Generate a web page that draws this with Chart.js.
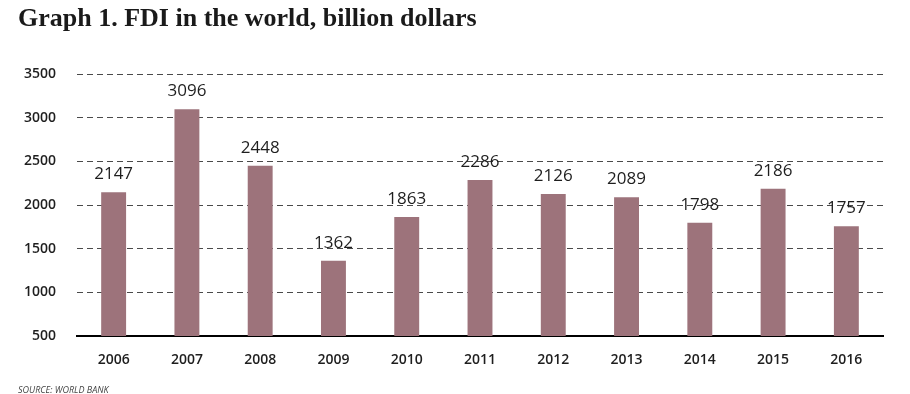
<!DOCTYPE html>
<html>
<head>
<meta charset="utf-8">
<script src="https://cdn.jsdelivr.net/npm/chart.js@4"></script>
<style>
  body { margin: 0; background: #fff; }
  #wrap { position: relative; width: 910px; height: 394px; }
  #title { position: absolute; left: 18px; top: 3px; margin: 0; font: bold 26px "Liberation Serif", serif; color: #1a1a1a; }
  #source { position: absolute; left: 18px; top: 383px; font: italic 9px "Open Sans", sans-serif; color: #444; }
  canvas { position: absolute; left: 0; top: 0; }
</style>
</head>
<body>
<div id="wrap">
  <canvas id="graph1" width="910" height="394"></canvas>
  <h1 id="title">Graph 1. FDI in the world, billion dollars</h1>
  <div id="source">SOURCE: WORLD BANK</div>
</div>
<script>
var years = ["2006", "2007", "2008", "2009", "2010", "2011", "2012", "2013", "2014", "2015", "2016"];
var fdi = [2147, 3096, 2448, 1362, 1863, 2286, 2126, 2089, 1798, 2186, 1757];
var yTicks = [500, 1000, 1500, 2000, 2500, 3000, 3500];

// draws the value above every bar
var valueLabels = {
    id: "valueLabels",
    afterDatasetsDraw: function (chart) {
        var ctx = chart.ctx;
        var meta = chart.getDatasetMeta(0);
        ctx.save();
        ctx.font = "17px 'Open Sans', sans-serif";
        ctx.fillStyle = "#1e1e1e";
        ctx.textAlign = "center";
        ctx.textBaseline = "alphabetic";
        meta.data.forEach(function (bar, i) {
            ctx.fillText(fdi[i], bar.x, bar.y - 13);
        });
        ctx.restore();
    }
};

new Chart(document.getElementById("graph1"), {
    type: "bar",
    data: {
        labels: years,
        datasets: [{
            label: "FDI",
            data: fdi,
            backgroundColor: "#9d737b",
            barPercentage: 0.34,
            categoryPercentage: 1
        }]
    },
    options: {
        responsive: false,
        animation: false,
        layout: { padding: { top: 74, right: 27, left: 0, bottom: 0 } },
        plugins: { legend: { display: false }, tooltip: { enabled: false } },
        scales: {
            x: {
                grid: { display: false },
                border: { display: true, color: "#000", width: 2 },
                ticks: { color: "#1e1e1e", font: { family: "Open Sans", size: 14, weight: "600" }, padding: 8 },
                afterFit: function (s) { s.height = 58; }
            },
            y: {
                min: 500,
                max: 3500,
                afterBuildTicks: function (s) { s.ticks = yTicks.map(function (v) { return { value: v }; }); },
                grid: {
                    drawTicks: false,
                    color: function (c) { return c.tick.value === 500 ? "rgba(0,0,0,0)" : "#4a4a4a"; },
                    lineWidth: 1
                },
                border: { display: false, dash: [6, 4] },
                ticks: {
                    color: "#1e1e1e",
                    font: { family: "Open Sans", size: 14, weight: "600" },
                    padding: 21,
                    callback: function (v) { return String(v); }
                },
                afterFit: function (s) { s.width = 77; }
            }
        }
    },
    plugins: [valueLabels]
});
</script>
</body>
</html>
